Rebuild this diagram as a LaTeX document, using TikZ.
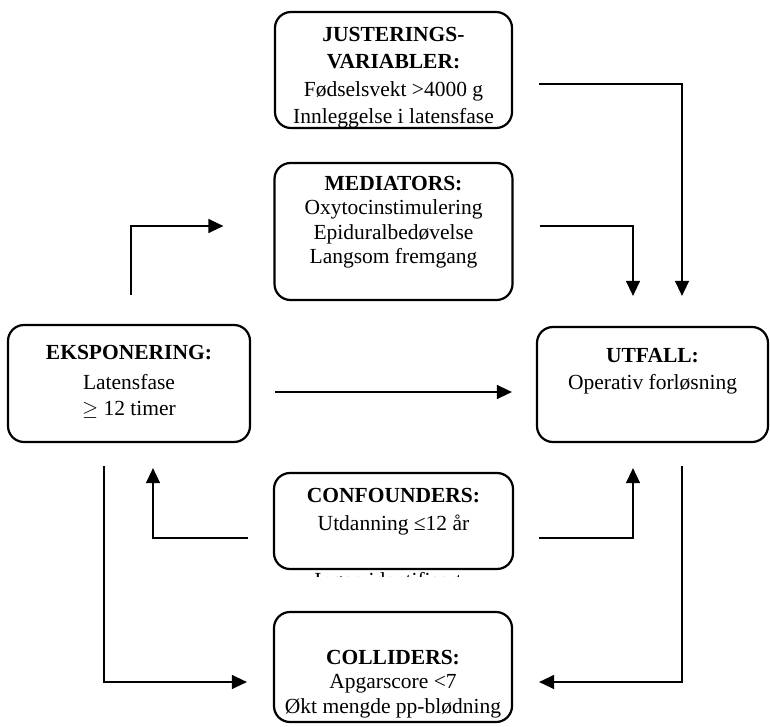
\documentclass[tikz,border=0pt]{standalone}
\usepackage{fontspec}
\setmainfont{Liberation Serif}
\usetikzlibrary{calc,arrows.meta}
\begin{document}
\begin{tikzpicture}[x=1pt,y=-1pt,
  box/.style={draw, line width=2.2pt, rounded corners=16pt, inner sep=0pt},
  txt/.style={anchor=north, align=center, inner sep=0pt, font=\fontsize{21.5}{24.5}\selectfont},
  arr/.style={line width=1.3pt, -{Triangle[length=15pt,width=14pt]}}]
\fill[white] (0,0) rectangle (770,727);
\useasboundingbox (0,0) rectangle (770,727);
% boxes
\node[box, minimum width=237pt, minimum height=116pt] (jus) at (393.5,70) {};
\node[box, minimum width=238pt, minimum height=137pt] (med) at (393.5,231.5) {};
\node[box, minimum width=242pt, minimum height=117pt] (eks) at (129,383.5) {};
\node[box, minimum width=231pt, minimum height=115pt] (utf) at (652.5,384.5) {};
\node[box, minimum width=239pt, minimum height=96pt] (con) at (393.5,521) {};
\node[box, minimum width=238pt, minimum height=110pt] (col) at (393,667) {};
% texts
\node[txt, font=\fontsize{21.5}{27.5}\selectfont] (jus-t) at (393.5,27) {\textbf{JUSTERINGS-}\\\textbf{VARIABLER:}\\Fødselsvekt >4000 g\\Innleggelse i latensfase};
\node[txt] (med-t) at (393.5,176) {\textbf{MEDIATORS:}\\Oxytocinstimulering\\Epiduralbedøvelse\\Langsom fremgang};
\node[txt] (eks-t) at (129,345) {\textbf{EKSPONERING:}\\[6pt]Latensfase\\[1pt]$\geq$ 12 timer};
\node[txt] (utf-t) at (652.5,348) {\textbf{UTFALL:}\\[3pt]Operativ forløsning};
\node[txt] (con-t) at (393.5,488) {\textbf{CONFOUNDERS:}\\[4pt]Utdanning ≤12 år};
\node[txt] (col-t) at (393,650) {\textbf{COLLIDERS:}\\Apgarscore <7\\Økt mengde pp-blødning};
\begin{scope}
\clip (274,571.2) rectangle (513,576);
\node[txt] (hid-t) at (388,572.5) {Ingen identifisert};
\end{scope}
% connectors
\draw[arr] ($(eks.north)+(2,-29)$) |- ($(med.west)+(-50,-5.5)$);
\draw[arr] ($(jus.east)+(26,14)$) -| ($(utf.north)+(29.5,-30)$);
\draw[arr] ($(med.east)+(26,-5.5)$) -| ($(utf.north)+(-19.5,-30)$);
\draw[arr] ($(eks.east)+(24,8.5)$) -- ($(utf.west)+(-24,7.5)$);
\draw[arr] ($(con.west)+(-25,17)$) -| ($(eks.south)+(24,25)$);
\draw[arr] ($(con.east)+(25,17)$) -| ($(utf.south)+(-19.5,25)$);
\draw[arr] ($(eks.south)+(-25,23)$) |- ($(col.west)+(-26,15)$);
\draw[arr] ($(utf.south)+(29.5,23)$) |- ($(col.east)+(26,15)$);
\end{tikzpicture}
\end{document}
